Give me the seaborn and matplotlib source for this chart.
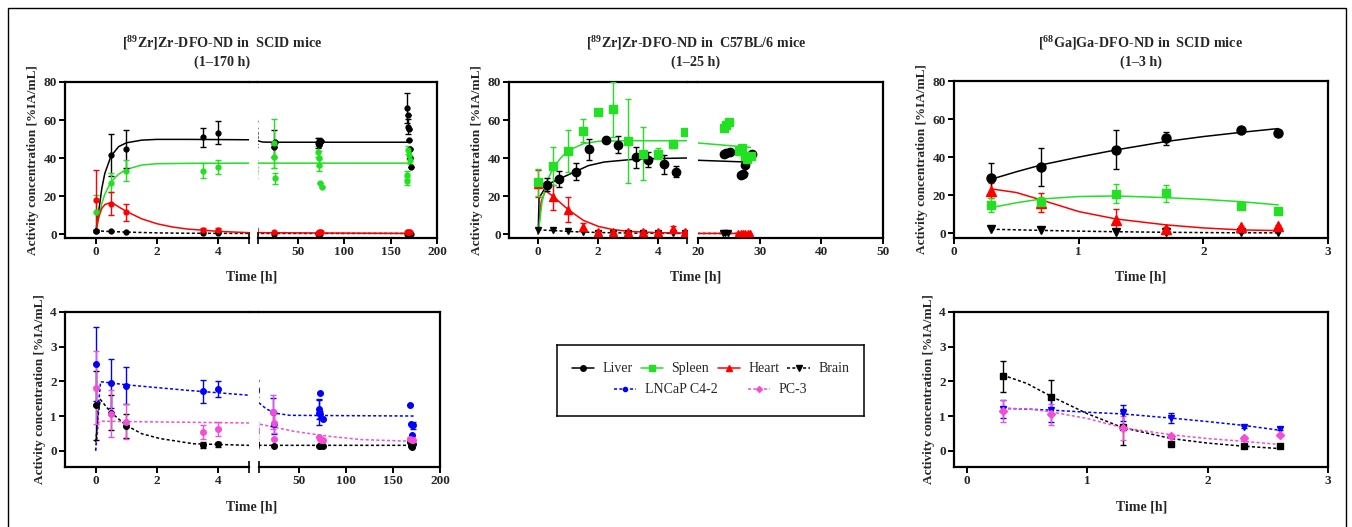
import matplotlib
matplotlib.use("Agg")
import matplotlib.pyplot as plt
import seaborn as sns
from matplotlib.lines import Line2D
from matplotlib.patches import Rectangle

W, H = 1352, 527

# ---- panel A: [89Zr]Zr-DFO-ND in SCID mice (organs) ----
A_T = [0, 0.5, 1, 3.5, 4]
A_LIVER = [1.5, 41.6, 44.5, 50.8, 53.3]
A_LIVER_ERR = [0.5, 11, 10, 5, 6]
A_SPLEEN = [11.4, 27, 33.2, 33.4, 35.3]
A_SPLEEN_ERR = [9, 5, 5.5, 4, 3.5]
A_HEART = [18, 16, 11.4, 2.3, 1.9]
A_HEART_ERR = [15.7, 6, 4.5, 1, 1]
A_BRAIN = [1.5, 1.4, 0.9, 0.35, 0.3]

A_LATE_LIVER_T = [24, 24.5, 25, 72, 72.5, 73, 74, 75, 168, 168.5, 169, 169.5, 170, 170.5, 171, 172]
A_LATE_LIVER = [47.7, 46, 48.5, 48, 49, 47, 48.5, 49, 66.4, 62.5, 56.4, 55.5, 49.4, 45, 39.8, 35.5]
A_LATE_LIVER_ERR = [7, 0, 0, 2.5, 1.5, 0, 0, 0, 8, 0, 4, 0, 0, 0, 0, 0]
A_LATE_SPLEEN_T = [24, 24.5, 25, 72, 72.5, 73, 74, 75.5, 169, 170, 170.5, 168, 167.5]
A_LATE_SPLEEN = [47.7, 40.7, 29.3, 43.3, 39.8, 36.3, 26.7, 25, 44.2, 41.6, 39, 31, 28]
A_LATE_SPLEEN_ERR = [13, 6, 3, 3, 4, 3, 0, 0, 2, 2, 2, 2, 2]
A_LATE_HEART_T = [24, 72, 73, 74, 75, 168, 169, 170, 171]
A_LATE_HEART = [0.8, 0.7, 0.8, 0.9, 0.8, 0.9, 1.0, 0.9, 1.0]
A_LATE_BRAIN_T = [24, 72, 74, 168, 170, 172]
A_LATE_BRAIN = [0.2, 0.2, 0.2, 0.2, 0.2, 0.2]

A_FIT_LIVER_T = [0, 0.1, 0.2, 0.3, 0.5, 0.75, 1, 1.5, 2, 3, 5, 8, 12, 24, 72, 172]
A_FIT_LIVER = [0.5, 12, 24, 32, 41, 46, 48, 49.4, 49.8, 49.8, 49.6, 48.9, 48.4, 48.3, 48.3, 48.3]
A_FIT_SPLEEN_T = [0, 0.1, 0.2, 0.3, 0.5, 0.75, 1, 1.5, 2, 3, 5, 172]
A_FIT_SPLEEN = [0.5, 9, 16, 21, 27.5, 31.5, 34, 36.3, 37, 37.2, 37.3, 37.3]
A_FIT_HEART_T = [0, 0.1, 0.2, 0.3, 0.45, 0.6, 0.8, 1, 1.5, 2, 2.5, 3, 4, 5, 172]
A_FIT_HEART = [0.5, 9, 13.5, 15.5, 16.3, 15.8, 13.8, 11.9, 8, 5.4, 3.7, 2.6, 1.4, 0.7, 0.3]
A_FIT_BRAIN_T = [0, 0.5, 1, 2, 3, 5, 172]
A_FIT_BRAIN = [1.7, 1.3, 1.0, 0.6, 0.4, 0.3, 0.3]

# ---- panel B: [89Zr]Zr-DFO-ND in C57BL/6 mice ----
B_T = [0, 0.5, 1, 1.5, 2, 2.5, 3, 3.5, 4, 4.5, 4.9]
B_SPLEEN = [27.2, 35.6, 43.5, 54.4, 64.4, 65.6, 49.1, 42.3, 42.3, 47.5, 53.9]
B_SPLEEN_ERR = [7, 10, 11, 6, 0, 14.4, 22, 14, 3, 2, 0]
B_HEART = [26.5, 19.3, 12.8, 3.7, 1.0, 1.2, 1.0, 1.0, 1.0, 2.6, 1.0]
B_HEART_ERR = [7, 6.5, 6.7, 2, 0.5, 0.5, 0.5, 0.5, 0.5, 1.5, 0.3]
B_BRAIN = [2.3, 2.1, 1.6, 0.9, 0.5, 0.5, 0.5, 0.5, 0.5, 0.5, 0.5]
B_LIVER_T = [0.3, 0.7, 1.25, 1.7, 2.25, 2.65, 3.25, 3.65, 4.2, 4.6]
B_LIVER = [26, 29, 32.8, 44.6, 49.3, 47, 40.5, 39.1, 36.8, 32.8]
B_LIVER_ERR = [3.3, 4, 4.5, 5.4, 0.5, 4.6, 5.5, 4, 5, 3]

B_LATE_SPLEEN_T = [24.2, 24.6, 25, 26.6, 27.1, 27.6, 28, 28.6]
B_LATE_SPLEEN = [56, 57.5, 58.8, 43.5, 45.3, 41.2, 39.5, 41.2]
B_LATE_LIVER_T = [24.2, 24.6, 25.2, 26.9, 27.3, 27.6, 28.4, 28.7]
B_LATE_LIVER = [42.3, 42.6, 43, 31.2, 31.6, 36.1, 40.9, 42.3]
B_LATE_LIVER_ERR = [0, 0, 0, 0, 0, 4, 0, 0]
B_LATE_HEART_T = [26.5, 26.9, 27.3, 27.7, 28.1, 28.5]
B_LATE_HEART = [0.7, 0.7, 0.7, 0.7, 0.7, 0.7]
B_LATE_BRAIN_T = [24, 24.4, 24.8]
B_LATE_BRAIN = [0.5, 0.5, 0.5]

B_FIT_SPLEEN_T = [0, 0.13, 0.3, 0.5, 0.75, 1, 1.5, 2, 3, 4.9, 20, 28.5]
B_FIT_SPLEEN = [0, 17, 28, 34.7, 40, 43.9, 47.5, 48.8, 49.1, 49.1, 47.9, 45.6]
B_FIT_LIVER_T = [0, 0.03, 0.3, 0.7, 1.26, 1.67, 2.2, 3.3, 4.9, 20, 27.7]
B_FIT_LIVER = [0, 19, 26, 29, 33, 36, 37.9, 39.5, 40, 38.8, 37.9]
B_FIT_HEART_T = [0, 0.1, 0.24, 0.5, 1, 1.5, 2, 2.5, 3, 4, 4.9, 20, 28.5]
B_FIT_HEART = [0, 17, 22.8, 19.8, 12.8, 7.2, 4, 2.3, 1.4, 0.7, 0.5, 0.3, 0.3]
B_FIT_BRAIN_T = [0, 0.5, 1, 1.5, 2, 3, 4.9, 20, 28.5]
B_FIT_BRAIN = [2.2, 1.8, 1.4, 1.0, 0.8, 0.5, 0.3, 0.3, 0.3]

# ---- panel C: [68Ga]Ga-DFO-ND in SCID mice ----
C_T = [0.3, 0.7, 1.3, 1.7, 2.3, 2.6]
C_LIVER = [28.9, 34.7, 44, 49.9, 54.1, 52.9]
C_LIVER_ERR = [8, 10, 10.5, 3.5, 0.5, 0.5]
C_SPLEEN = [14.9, 16.3, 20.7, 21, 14.5, 11.7]
C_SPLEEN_ERR = [3.5, 3, 5, 4.4, 0.5, 0.5]
C_HEART = [22.4, 16.1, 7, 2.3, 3.2, 3.9]
C_HEART_ERR = [4, 5, 6, 1, 0.5, 0.5]
C_BRAIN = [2.3, 1.7, 0.9, 0.5, 0.5, 0.5]
C_FIT_T = [0.3, 0.5, 0.7, 1.0, 1.3, 1.7, 2.0, 2.3, 2.6]
C_FIT_LIVER = [28.4, 32.3, 35.9, 40, 43.8, 48.2, 50.8, 53, 55]
C_FIT_SPLEEN = [13.5, 16, 18, 19.3, 19.6, 18.7, 17.8, 16.6, 14.9]
C_FIT_HEART = [23.3, 21.4, 17.5, 11.4, 7.5, 4.4, 2.8, 1.75, 1.4]
C_FIT_BRAIN = [2.1, 1.8, 1.5, 1.1, 0.8, 0.5, 0.35, 0.25, 0.2]

# ---- panel D: tumours, [89Zr] SCID ----
D_T = [0, 0.5, 1, 3.5, 4]
D_LNCAP = [2.49, 1.94, 1.87, 1.71, 1.78]
D_LNCAP_ERR = [1.07, 0.7, 0.53, 0.32, 0.22]
D_PC3 = [1.82, 1.07, 0.84, 0.53, 0.62]
D_PC3_ERR = [1.06, 0.67, 0.5, 0.2, 0.2]
D_BLACK = [1.31, 1.1, 0.71, 0.17, 0.19]
D_BLACK_ERR = [1.0, 0.5, 0.35, 0.08, 0.07]

D_LATE_LNCAP_T = [22, 22.5, 71, 71.5, 72, 72.5, 75, 168, 169, 170, 170.5, 171.5]
D_LATE_LNCAP = [1.12, 0.78, 1.1, 1.2, 1.67, 1.05, 0.91, 1.33, 0.78, 0.46, 0.73, 0.73]
D_LATE_LNCAP_ERR = [0.4, 0.3, 0.35, 0.3, 0, 0.1, 0, 0, 0, 0, 0, 0.1]
D_LATE_PC3_T = [22, 22.5, 23, 71, 72, 73, 75, 168, 170, 171]
D_LATE_PC3 = [1.12, 0.81, 0.35, 0.4, 0.35, 0.32, 0.3, 0.35, 0.3, 0.3]
D_LATE_PC3_ERR = [0.5, 0.3, 0, 0, 0, 0, 0, 0.05, 0.05, 0]
D_LATE_BLACK_T = [23, 71, 72, 75, 168, 169, 170, 171]
D_LATE_BLACK = [0.13, 0.14, 0.13, 0.15, 0.25, 0.15, 0.1, 0.2]

D_FIT_LNCAP_T = [0, 0.08, 0.16, 1, 3, 5, 7, 15, 25, 40, 172]
D_FIT_LNCAP = [0, 1.2, 1.99, 1.9, 1.74, 1.6, 1.38, 1.2, 1.08, 1.02, 1.0]
D_FIT_PC3_T = [0, 0.1, 0.2, 1, 3, 5, 7, 44, 80, 116, 172]
D_FIT_PC3 = [0, 0.83, 0.85, 0.84, 0.82, 0.8, 0.77, 0.56, 0.42, 0.32, 0.27]
D_FIT_BLACK_T = [0, 0.08, 0.15, 0.5, 1, 1.5, 2.1, 3.2, 5, 172]
D_FIT_BLACK = [0.25, 1.0, 1.48, 1.1, 0.73, 0.49, 0.35, 0.2, 0.155, 0.155]

# ---- panel E: tumours, [68Ga] SCID ----
E_T = [0.3, 0.7, 1.3, 1.7, 2.3, 2.6]
E_BLACK = [2.15, 1.54, 0.69, 0.18, 0.135, 0.13]
E_BLACK_ERR = [0.45, 0.5, 0.52, 0.03, 0.02, 0.02]
E_LNCAP = [1.2, 1.17, 1.09, 0.95, 0.69, 0.64]
E_LNCAP_ERR = [0.25, 0.35, 0.22, 0.15, 0.03, 0.03]
E_PC3 = [1.15, 1.05, 0.66, 0.42, 0.38, 0.45]
E_PC3_ERR = [0.32, 0.3, 0.35, 0.03, 0.03, 0.03]
E_FIT_T = [0.3, 0.5, 0.7, 1.0, 1.3, 1.7, 2.0, 2.3, 2.6]
E_FIT_BLACK = [2.18, 1.94, 1.57, 1.07, 0.66, 0.35, 0.22, 0.13, 0.06]
E_FIT_LNCAP = [1.22, 1.2, 1.17, 1.11, 1.06, 0.94, 0.84, 0.73, 0.59]
E_FIT_PC3 = [1.22, 1.21, 1.12, 0.93, 0.66, 0.46, 0.35, 0.27, 0.18]

LEGEND_ROW1 = ["Liver", "Spleen", "Heart", "Brain"]
LEGEND_ROW2 = ["LNCaP C4-2", "PC-3"]

GREEN = "#22e022"
RED = "#ff0000"
BLUE = "#0000ff"
PINK = "#f24fd6"
BLACK = "#000000"
DOT = (0, (2, 1.5))

sns.set_theme(style="ticks")
plt.rcParams["font.family"] = ["Liberation Serif", "DejaVu Serif"]
plt.rcParams["font.weight"] = "bold"
plt.rcParams["mathtext.fontset"] = "custom"
plt.rcParams["mathtext.rm"] = "Liberation Serif"
plt.rcParams["mathtext.bf"] = "Liberation Serif:bold"

fig = plt.figure(figsize=(W / 100, H / 100), dpi=100)


def box(x0, y0, x1, y1):
    return [x0 / W, 1 - y1 / H, (x1 - x0) / W, (y1 - y0) / H]


def style(ax, xlim, xticks, ylim, yticks, side="full"):
    ax.set_facecolor("white")
    ax.grid(False)
    ax.set_xlim(xlim)
    ax.set_ylim(ylim)
    ax.set_xticks(xticks)
    ax.set_yticks(yticks)
    for s in ax.spines.values():
        s.set_linewidth(1.6)
        s.set_color("black")
    ax.tick_params(width=1.4, length=4, labelsize=9.5, color="black", pad=2)
    ax.tick_params(which="minor", direction="inout", length=8, width=1.4)
    if side == "left":
        ax.spines["right"].set_visible(False)
        ax.set_xticks([xlim[1]], minor=True)
    elif side == "right":
        ax.spines["left"].set_visible(False)
        ax.tick_params(axis="y", left=False, labelleft=False)
        ax.set_xticks([xlim[0]], minor=True)


def ylab(ax):
    ax.set_ylabel("Activity concentration [%IA/mL]", fontsize=9.5, fontweight="bold", labelpad=3)


def pts(axes, t, y, err, color, marker, ms):
    for ax in axes:
        ax.errorbar(t, y, yerr=err, fmt=marker, color=color, mec=color, ms=ms,
                    elinewidth=1, capsize=2, capthick=1, zorder=3)


def fit(axes, t, y, color, ls="-"):
    for ax in axes:
        sns.lineplot(x=t, y=y, ax=ax, color=color, linestyle=ls, linewidth=1.1,
                     sort=False, estimator=None, legend=False, zorder=2)


def top_gap(x0, x1, y):
    fig.add_artist(Line2D([x0 / W, x1 / W], [1 - y / H, 1 - y / H], color="black", lw=1.6))


# ---------------- panel A ----------------
a1 = fig.add_axes(box(65, 82, 249, 238))
a2 = fig.add_axes(box(258, 82, 437, 238))
A = [a1, a2]
fit(A, A_FIT_BRAIN_T, A_FIT_BRAIN, BLACK, DOT)
fit(A, A_FIT_LIVER_T, A_FIT_LIVER, BLACK)
fit(A, A_FIT_SPLEEN_T, A_FIT_SPLEEN, GREEN)
fit(A, A_FIT_HEART_T, A_FIT_HEART, RED)
pts(A, A_T, A_BRAIN, None, BLACK, "o", 3.5)
pts(A, A_T, A_LIVER, A_LIVER_ERR, BLACK, "o", 3.5)
pts(A, A_T, A_SPLEEN, A_SPLEEN_ERR, GREEN, "o", 3.5)
pts(A, A_T, A_HEART, A_HEART_ERR, RED, "o", 3.5)
pts(A, A_LATE_BRAIN_T, A_LATE_BRAIN, None, BLACK, "o", 3.5)
pts(A, A_LATE_HEART_T, A_LATE_HEART, None, RED, "o", 3.5)
pts(A, A_LATE_LIVER_T, A_LATE_LIVER, A_LATE_LIVER_ERR, BLACK, "o", 3.5)
pts(A, A_LATE_SPLEEN_T, A_LATE_SPLEEN, A_LATE_SPLEEN_ERR, GREEN, "o", 3.5)
style(a1, (-1, 5), [0, 2, 4], (-2.1, 80), [0, 20, 40, 60, 80], "left")
style(a2, (7, 200), [50, 100, 150, 200], (-2.1, 80), [0, 20, 40, 60, 80], "right")
ylab(a1)
top_gap(249, 258, 82)

# ---------------- panel B ----------------
b1 = fig.add_axes(box(509, 82, 687, 238))
b2 = fig.add_axes(box(698, 82, 883, 238))
B = [b1, b2]
fit(B, B_FIT_BRAIN_T, B_FIT_BRAIN, BLACK, DOT)
fit(B, B_FIT_HEART_T, B_FIT_HEART, RED)
fit(B, B_FIT_LIVER_T, B_FIT_LIVER, BLACK)
fit(B, B_FIT_SPLEEN_T, B_FIT_SPLEEN, GREEN)
pts(B, B_T, B_BRAIN, None, BLACK, "v", 5)
pts(B, B_T, B_HEART, B_HEART_ERR, RED, "^", 5.5)
pts(B, B_LIVER_T, B_LIVER, B_LIVER_ERR, BLACK, "o", 6)
pts(B, B_T, B_SPLEEN, B_SPLEEN_ERR, GREEN, "s", 5.5)
pts(B, B_LATE_BRAIN_T, B_LATE_BRAIN, None, BLACK, "v", 5)
pts(B, B_LATE_HEART_T, B_LATE_HEART, None, RED, "^", 5)
pts(B, B_LATE_LIVER_T, B_LATE_LIVER, B_LATE_LIVER_ERR, BLACK, "o", 6)
pts(B, B_LATE_SPLEEN_T, B_LATE_SPLEEN, None, GREEN, "s", 5.5)
style(b1, (-0.97, 4.95), [0, 2, 4], (-2.1, 80), [0, 20, 40, 60, 80], "left")
style(b2, (20, 50), [20, 30, 40, 50], (-2.1, 80), [0, 20, 40, 60, 80], "right")
ylab(b1)
top_gap(687, 698, 82)

# ---------------- panel C ----------------
c = fig.add_axes(box(954, 81, 1328, 238))
fit([c], C_FIT_T, C_FIT_BRAIN, BLACK, DOT)
fit([c], C_FIT_T, C_FIT_HEART, RED)
fit([c], C_FIT_T, C_FIT_SPLEEN, GREEN)
fit([c], C_FIT_T, C_FIT_LIVER, BLACK)
pts([c], C_T, C_BRAIN, None, BLACK, "v", 6)
pts([c], C_T, C_HEART, C_HEART_ERR, RED, "^", 6.5)
pts([c], C_T, C_SPLEEN, C_SPLEEN_ERR, GREEN, "s", 6)
pts([c], C_T, C_LIVER, C_LIVER_ERR, BLACK, "o", 6.5)
style(c, (0, 3), [0, 1, 2, 3], (-2.5, 80), [0, 20, 40, 60, 80])
ylab(c)

# ---------------- panel D ----------------
d1 = fig.add_axes(box(65, 312, 249, 467))
d2 = fig.add_axes(box(259, 312, 440, 467))
D = [d1, d2]
fit(D, D_FIT_BLACK_T, D_FIT_BLACK, BLACK, DOT)
fit(D, D_FIT_PC3_T, D_FIT_PC3, PINK, DOT)
fit(D, D_FIT_LNCAP_T, D_FIT_LNCAP, BLUE, DOT)
pts(D, D_T, D_BLACK, D_BLACK_ERR, BLACK, "o", 4)
pts(D, D_T, D_LNCAP, D_LNCAP_ERR, BLUE, "o", 4)
pts(D, D_T, D_PC3, D_PC3_ERR, PINK, "o", 4)
pts(D, D_LATE_BLACK_T, D_LATE_BLACK, None, BLACK, "o", 4)
pts(D, D_LATE_LNCAP_T, D_LATE_LNCAP, D_LATE_LNCAP_ERR, BLUE, "o", 4)
pts(D, D_LATE_PC3_T, D_LATE_PC3, D_LATE_PC3_ERR, PINK, "o", 4)
style(d1, (-1, 5), [0, 2, 4], (-0.47, 4), [0, 1, 2, 3, 4], "left")
style(d2, (7, 200), [50, 100, 150, 200], (-0.47, 4), [0, 1, 2, 3, 4], "right")
ylab(d1)
top_gap(249, 259, 312)

# ---------------- panel E ----------------
e = fig.add_axes(box(954, 312, 1328, 467))
fit([e], E_FIT_T, E_FIT_BLACK, BLACK, DOT)
fit([e], E_FIT_T, E_FIT_LNCAP, BLUE, DOT)
fit([e], E_FIT_T, E_FIT_PC3, PINK, DOT)
pts([e], E_T, E_BLACK, E_BLACK_ERR, BLACK, "s", 5)
pts([e], E_T, E_LNCAP, E_LNCAP_ERR, BLUE, "v", 5)
pts([e], E_T, E_PC3, E_PC3_ERR, PINK, "D", 4)
style(e, (-0.105, 3), [0, 1, 2, 3], (-0.47, 4), [0, 1, 2, 3, 4])
ylab(e)

# ---------------- titles and x labels ----------------
TITLES = [
    (222, r"[$^{\mathbf{89}}$Zr]Zr-DFO-ND in  SCID mice", "(1–170 h)"),
    (696, r"[$^{\mathbf{89}}$Zr]Zr-DFO-ND in  C57BL/6 mice", "(1–25 h)"),
    (1141, r"[$^{\mathbf{68}}$Ga]Ga-DFO-ND in  SCID mice", "(1–3 h)"),
]
for x, line1, line2 in TITLES:
    fig.text(x / W, 1 - 43 / H, line1, ha="center", va="center", fontsize=10.2, fontweight="bold")
    fig.text(x / W, 1 - 62 / H, line2, ha="center", va="center", fontsize=10.2, fontweight="bold")

for x, y in [(252, 277), (696, 277), (1141, 277), (252, 507), (1142, 507)]:
    fig.text(x / W, 1 - y / H, "Time [h]", ha="center", va="center", fontsize=10, fontweight="bold")

# ---------------- legend ----------------
lg = fig.add_axes(box(557, 345, 864, 416))
lg.set_xticks([])
lg.set_yticks([])
lg.set_facecolor("white")
for s in lg.spines.values():
    s.set_linewidth(1.1)
    s.set_color("black")
styles1 = [(BLACK, "o", "-"), (GREEN, "s", "-"), (RED, "^", "-"), (BLACK, "v", DOT)]
styles2 = [(BLUE, "o", DOT), (PINK, "D", DOT)]
h1 = [Line2D([], [], color=c_, marker=m, ls=ls, lw=1.1, ms=4) for c_, m, ls in styles1]
h2 = [Line2D([], [], color=c_, marker=m, ls=ls, lw=1.1, ms=3) for c_, m, ls in styles2]
leg1 = lg.legend(h1, LEGEND_ROW1, ncol=4, loc="upper center", bbox_to_anchor=(0.5, 0.93),
                 frameon=False, handlelength=1.6, columnspacing=0.6, handletextpad=0.6,
                 prop={"size": 10, "weight": "normal"})
lg.add_artist(leg1)
lg.legend(h2, LEGEND_ROW2, ncol=2, loc="lower center", bbox_to_anchor=(0.5, 0.1),
          frameon=False, handlelength=1.6, columnspacing=2.2, handletextpad=0.6,
          prop={"size": 10, "weight": "normal"})

# outer frame
fig.add_artist(Rectangle((8 / W, -0.02), (1346 - 8) / W, 1 - 8 / H + 0.02,
                         fill=False, lw=1.0, ec="black", transform=fig.transFigure))

fig.savefig("out.png", dpi=100, facecolor="white")
